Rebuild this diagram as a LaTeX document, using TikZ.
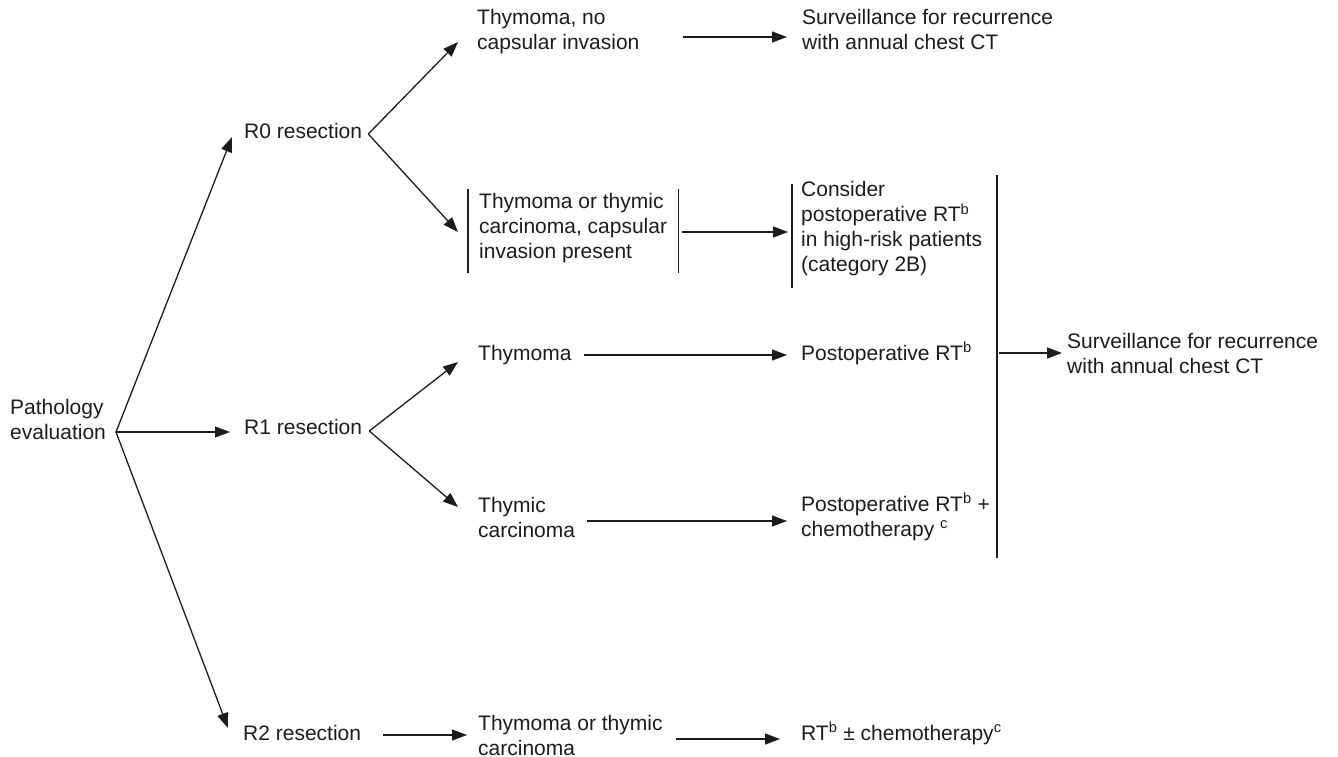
\documentclass[tikz,border=0pt]{standalone}
\usepackage{fontspec}
\setmainfont{Liberation Sans}
\usepackage{tikz}
\usetikzlibrary{calc,arrows.meta}
\usepackage{xcolor}
\definecolor{ink}{RGB}{30,27,28}

\tikzset{
  lbl/.style={anchor=west, align=left, inner sep=0pt, text=ink, font=\fontsize{21}{25}\selectfont},
  one/.style={lbl, text height=15pt, text depth=5pt},
  arr/.style={draw=ink, line width=1.3pt, -{Triangle[length=15pt,width=11pt]}},
  bar/.style={draw=ink, line width=1.3pt}
}

\begin{document}
\begin{tikzpicture}[x=1pt,y=-1pt]
  \useasboundingbox (0,0) rectangle (1338,757);

  % start
  \node[lbl] (path) at (10,419) {Pathology\\evaluation};
  \coordinate (pv) at (116,432);

  % resections
  \node[one] (r0) at (244,134) {R0 resection};
  \node[one] (r1) at (244,429) {R1 resection};
  \node[one] (r2) at (243,735) {R2 resection};
  \draw[arr] (pv) -- ([xshift=-12pt,yshift=-3pt]r0.west);
  \draw[arr] (pv) -- ([xshift=-14pt,yshift=-3pt]r1.west);
  \draw[arr] (pv) -- ([xshift=-15pt,yshift=7pt]r2.west);

  % R0 branch
  \node[lbl] (t0a) at (477,32) {Thymoma, no\\capsular invasion};
  \node[lbl, inner xsep=11pt] (t0b) at (468,228) {Thymoma or thymic\\carcinoma, capsular\\invasion present};
  \draw[bar] ([yshift=4pt]t0b.north west) -- ([yshift=-10pt]t0b.south west);
  \draw[bar] ([yshift=4pt]t0b.north east) -- ([yshift=-10pt]t0b.south east);
  \coordinate (r0v) at ([xshift=6pt]r0.east);
  \draw[arr] (r0v) -- ([xshift=-10pt,yshift=-10pt]t0a.west -| t0b.west);
  \draw[arr] (r0v) -- ([xshift=-10pt,yshift=-4pt]t0b.west);

  \node[lbl] (s0) at (802,29) {Surveillance for recurrence\\with annual chest CT};
  \draw[arr] ([xshift=43pt,yshift=-5pt]t0a.east) -- ([xshift=-15pt,yshift=-8pt]s0.west);

  \node[lbl] (c0) at (801,229) {Consider\\postoperative RT\textsuperscript{b}\\in high-risk patients\\(category 2B)};
  \draw[bar] ([xshift=-9pt,yshift=-2pt]c0.north west) -- ([xshift=-9pt,yshift=-12pt]c0.south west);
  \draw[arr] ([xshift=4pt,yshift=-4pt]t0b.east) -- ([xshift=-13pt,yshift=-3pt]c0.west);

  % R1 branch
  \node[one] (t1a) at (478,355) {Thymoma};
  \node[lbl] (t1b) at (478,517) {Thymic\\carcinoma};
  \coordinate (r1v) at ([xshift=7pt,yshift=-2pt]r1.east);
  \draw[arr] (r1v) -- ([xshift=-20pt,yshift=-7pt]t1a.west);
  \draw[arr] (r1v) -- ([xshift=-20pt,yshift=10pt]t1b.west);

  \node[one] (p1a) at (801,355) {Postoperative RT\textsuperscript{b}};
  \node[lbl] (p1b) at (801,517) {Postoperative RT\textsuperscript{b} +\\chemotherapy \textsuperscript{c}};
  \draw[arr] ([xshift=12pt]t1a.east) -- ([xshift=-14pt]p1a.west);
  \draw[arr] ([xshift=12pt,yshift=-4pt]t1b.east) -- ([xshift=-14pt,yshift=-4pt]p1b.west);

  % join
  \coordinate (bt) at (997,175);
  \coordinate (bb) at (997,558);
  \draw[bar] (bt) -- (bb);
  \node[lbl] (s1) at (1067,353) {Surveillance for recurrence\\with annual chest CT};
  \draw[arr] ([xshift=2pt]bt |- s1.west) -- ([xshift=-5pt]s1.west);

  % R2 branch
  \node[lbl] (t2) at (478,735) {Thymoma or thymic\\carcinoma};
  \node[one] (rt2) at (801,735) {RT\textsuperscript{b} ± chemotherapy\textsuperscript{c}};
  \draw[arr] ([xshift=22pt]r2.east) -- ([xshift=-11pt]t2.west);
  \draw[arr] ([xshift=13pt,yshift=-4pt]t2.east) -- ([xshift=-21pt,yshift=-4pt]rt2.west);
\end{tikzpicture}
\end{document}
